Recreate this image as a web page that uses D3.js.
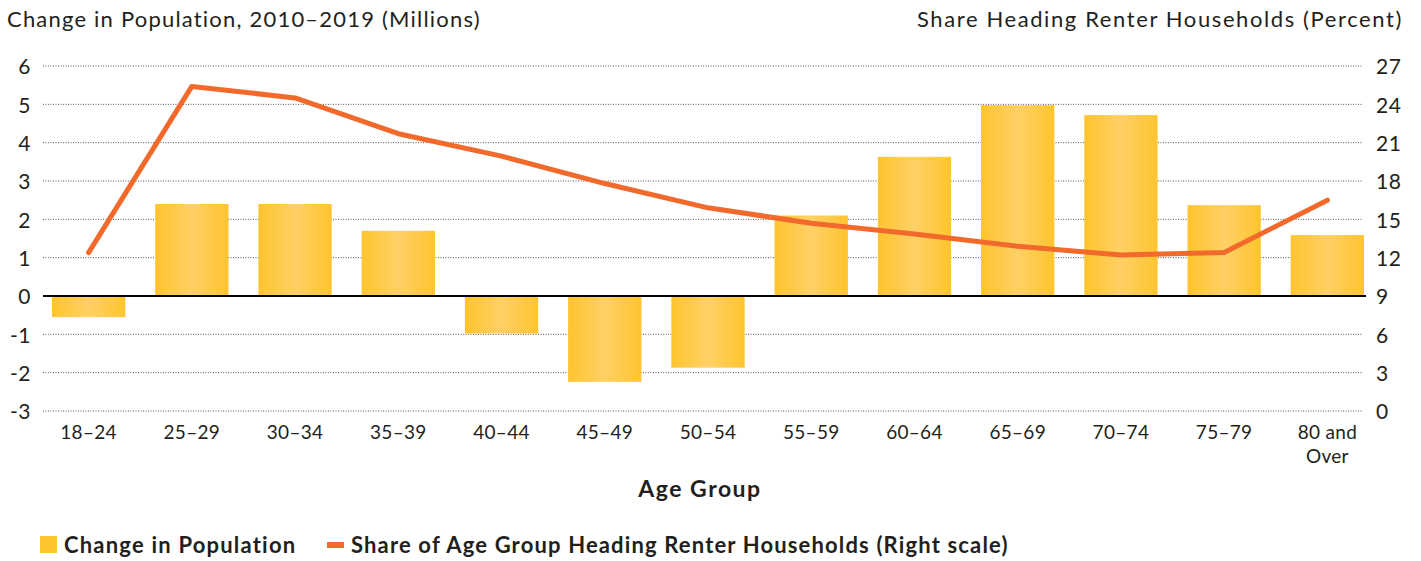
<!DOCTYPE html>
<html lang="en">
<head>
    <meta charset="utf-8">
    <script src="https://cdn.jsdelivr.net/npm/d3@7"></script>
    <style>
        body { margin: 0; background: #fff; }
        svg text { font-family: Lato, "Open Sans", sans-serif; fill: #231f20; }
    </style>
</head>
<body>
<script>
    var ageGroups = ['18–24', '25–29', '30–34', '35–39', '40–44', '45–49', '50–54',
        '55–59', '60–64', '65–69', '70–74', '75–79', '80 and Over'];
    var popChange = [-0.55, 2.4, 2.4, 1.7, -0.98, -2.24, -1.87, 2.1, 3.63, 4.98, 4.72, 2.37, 1.59];
    var renterShare = [12.4, 25.4, 24.5, 21.7, 19.95, 17.8, 15.9, 14.7, 13.85, 12.9, 12.2, 12.4, 16.5];
    var leftTicks = [-3, -2, -1, 0, 1, 2, 3, 4, 5, 6];
    var rightTicks = [0, 3, 6, 9, 12, 15, 18, 21, 24, 27];

    var W = 1421, H = 561;
    var svg = d3.select('body').append('svg')
            .attr('width', W)
            .attr('height', H);

    var defs = svg.append('defs');
    var grad = defs.append('linearGradient')
            .attr('id', 'barGrad')
            .attr('x1', '0%').attr('x2', '100%')
            .attr('y1', '0%').attr('y2', '0%');
    grad.append('stop').attr('offset', '0%').attr('stop-color', '#ffc42e');
    grad.append('stop').attr('offset', '50%').attr('stop-color', '#ffd066');
    grad.append('stop').attr('offset', '100%').attr('stop-color', '#ffc42e');

    var x = d3.scaleBand()
            .domain(ageGroups)
            .range([37, 1379])
            .paddingInner(0.29)
            .paddingOuter(0.145);

    var yL = d3.scaleLinear().domain([-3, 6]).range([411, 66]);
    var yR = d3.scaleLinear().domain([0, 27]).range([411, 66]);

    // gridlines
    svg.append('g')
            .selectAll('line')
            .data(leftTicks.filter(function (d) { return d !== 0; }))
            .enter()
            .append('line')
            .attr('x1', 43)
            .attr('x2', 1363)
            .attr('y1', function (d) { return yL(d); })
            .attr('y2', function (d) { return yL(d); })
            .attr('stroke', '#555')
            .attr('stroke-width', 1)
            .attr('stroke-dasharray', '1,1.5');

    // axes
    var leftAxis = svg.append('g')
            .attr('transform', 'translate(31,0)')
            .call(d3.axisLeft(yL).tickValues(leftTicks).tickSize(0).tickPadding(0)
                    .tickFormat(function (d) { return String(d); }));
    leftAxis.select('.domain').remove();
    leftAxis.selectAll('text')
            .style('font-size', '21px')
            .style('letter-spacing', '0.5px')
            .attr('dy', '0.38em');

    var rightAxis = svg.append('g')
            .attr('transform', 'translate(1376,0)')
            .call(d3.axisRight(yR).tickValues(rightTicks).tickSize(0).tickPadding(0));
    rightAxis.select('.domain').remove();
    rightAxis.selectAll('text')
            .style('font-size', '21px')
            .style('letter-spacing', '0.5px')
            .attr('dy', '0.38em');

    // bars
    svg.append('g')
            .selectAll('rect')
            .data(popChange)
            .enter()
            .append('rect')
            .attr('x', function (d, i) { return x(ageGroups[i]); })
            .attr('width', x.bandwidth())
            .attr('y', function (d) { return d > 0 ? yL(d) : yL(0); })
            .attr('height', function (d) { return Math.abs(yL(d) - yL(0)); })
            .attr('fill', 'url(#barGrad)');

    // zero line
    svg.append('line')
            .attr('x1', 43)
            .attr('x2', 1366)
            .attr('y1', yL(0))
            .attr('y2', yL(0))
            .attr('stroke', '#000')
            .attr('stroke-width', 2);

    // line series
    var line = d3.line()
            .x(function (d, i) { return x(ageGroups[i]) + x.bandwidth() / 2; })
            .y(function (d) { return yR(d); });

    svg.append('path')
            .datum(renterShare)
            .attr('d', line)
            .attr('fill', 'none')
            .attr('stroke', '#f26a2b')
            .attr('stroke-width', 5)
            .attr('stroke-linecap', 'round')
            .attr('stroke-linejoin', 'round');

    // category labels
    var catG = svg.append('g');
    ageGroups.forEach(function (a, i) {
        var cx = x(a) + x.bandwidth() / 2;
        var t = catG.append('text')
                .attr('x', cx)
                .attr('y', 439)
                .attr('text-anchor', 'middle')
                .style('font-size', '19px')
                .style('letter-spacing', '0.3px');
        if (a === '80 and Over') {
            t.append('tspan').attr('x', cx).attr('y', 439).text('80 and');
            t.append('tspan').attr('x', cx).attr('y', 463).text('Over');
        } else {
            t.text(a);
        }
    });

    // titles
    svg.append('text')
            .attr('x', 7)
            .attr('y', 27)
            .style('font-size', '22px')
            .style('letter-spacing', '1.2px')
            .text('Change in Population, 2010–2019 (Millions)');

    svg.append('text')
            .attr('x', 1403)
            .attr('y', 27)
            .attr('text-anchor', 'end')
            .style('font-size', '22px')
            .style('letter-spacing', '1.6px')
            .text('Share Heading Renter Households (Percent)');

    svg.append('text')
            .attr('x', 700)
            .attr('y', 497)
            .attr('text-anchor', 'middle')
            .style('font-size', '23px')
            .style('font-weight', 'bold')
            .style('letter-spacing', '1.5px')
            .text('Age Group');

    // legend
    var leg = svg.append('g');
    leg.append('rect')
            .attr('x', 40).attr('y', 536)
            .attr('width', 17).attr('height', 17)
            .attr('fill', '#ffc42e');
    leg.append('text')
            .attr('x', 64).attr('y', 553)
            .style('font-size', '22px')
            .style('font-weight', 'bold')
            .style('letter-spacing', '1.2px')
            .text('Change in Population');
    leg.append('rect')
            .attr('x', 327).attr('y', 542)
            .attr('width', 17).attr('height', 6)
            .attr('fill', '#f26a2b');
    leg.append('text')
            .attr('x', 351).attr('y', 553)
            .style('font-size', '22px')
            .style('font-weight', 'bold')
            .style('letter-spacing', '1.15px')
            .text('Share of Age Group Heading Renter Households (Right scale)');
</script>
</body>
</html>
